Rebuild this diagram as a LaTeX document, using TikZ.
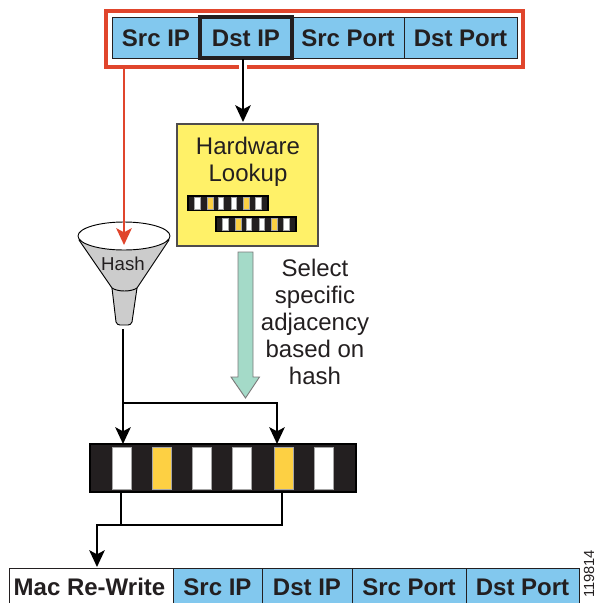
\documentclass[tikz,border=0pt]{standalone}
\usepackage{fontspec}
\setmainfont{Liberation Sans}
\usetikzlibrary{arrows.meta,calc}
\definecolor{bluecell}{HTML}{82C8EE}
\definecolor{redline}{HTML}{E0452C}
\definecolor{yellowbox}{HTML}{FFF168}
\definecolor{goldcell}{HTML}{FDD043}
\definecolor{tealarrow}{HTML}{A4DAC8}
\definecolor{darkstrip}{HTML}{231F20}
\definecolor{greyfun}{HTML}{CCCCCC}
\tikzset{
  x=0.75pt,y=-0.75pt,
  cellbox/.style={draw=darkstrip,line width=0.75pt,fill=bluecell},
  celltext/.style={font=\fontsize{18}{20}\selectfont\bfseries,text=darkstrip,inner sep=0pt},
  bodytext/.style={font=\fontsize{18}{20.2}\selectfont,text=darkstrip,inner sep=0pt,align=center},
  conn/.style={draw=black,line width=2.2pt},
  tipconn/.style={conn,-{Stealth[length=12.5pt,width=11.5pt,inset=3pt]}},
}
\newcommand{\packetcell}[6]{% name x1 y1 x2 y2 label
  \path[cellbox] (#2,#3) rectangle (#4,#5);
  \node[celltext] (#1) at ({(#2+#4)/2},{(#3+#5)/2+1}) {#6};
}
\newcommand{\stripcells}[8]{% x y w h list pad cellw linewidth
  \begin{scope}[shift={(#1,#2)}]
    \fill[darkstrip,draw=black,line width=#8*3] (0,0) rectangle (#3,#4);
    \foreach \posn/\colr in {#5}{
      \fill[\colr,draw=gray!70!white,line width=#8] ({\posn/266*#3},#6) rectangle ({(\posn+#7)/266*#3},#4-#6);
    }
  \end{scope}
}
\begin{document}
\begin{tikzpicture}
\useasboundingbox (0,0) rectangle (596,603);
% top packet
\packetcell{a1}{112}{17}{200}{58}{Src IP}
\packetcell{a2}{200}{17}{292}{58}{Dst IP}
\packetcell{a3}{292}{17}{404}{58}{Src Port}
\packetcell{a4}{404}{17}{517}{58}{Dst Port}
\draw[darkstrip,line width=2.4pt] (200,17) rectangle (292,58);
\coordinate (dstbot) at (243,59);
% red frame
\draw[redline,line width=3pt,line join=miter] (239,66.5) -- (106,66.5) -- (106,10.5) -- (522.5,10.5) -- (522.5,66.5) -- (247,66.5);
\coordinate (redstart) at (124,67);
% hardware lookup
\node[draw=darkstrip!80,line width=0.8pt,fill=yellowbox,minimum width=105.75pt,minimum height=91.5pt,inner sep=0pt] (hw) at (247.5,185) {};
\node[bodytext] (hwt) at (248,162) {Hardware\\Lookup};
\stripcells{188}{196}{80}{14.5}{22/white,65/goldcell,100/white,143/white,185/goldcell,224/white}{1.5}{18}{0.3pt}
\stripcells{216}{217}{80}{14.5}{22/white,65/goldcell,100/white,143/white,185/goldcell,224/white}{1.5}{18}{0.3pt}
% funnel
\draw[fill=greyfun,draw=black,line width=0.7pt,line join=round] (116,322) .. controls (117,324) and (118,325) .. (120,325) -- (128,325) .. controls (130,325) and (131,324) .. (132,322) -- (137,288) -- (112,288) -- cycle;
\draw[fill=greyfun,draw=black,line width=0.7pt,line join=round] (79,240) -- (112,288) .. controls (118,292) and (131,292) .. (137,288) -- (169,240) -- cycle;
\draw[fill=white,draw=black,line width=0.7pt] (124,236) ellipse [x radius=46,y radius=14];
\node[font=\fontsize{14}{16}\selectfont,text=darkstrip,inner sep=0pt] (hash) at (123,264) {Hash};
\coordinate (funneltop) at (124,245);
\coordinate (funnelbot) at (123,329);
% red arrow
\draw[redline,line width=2.2pt,-{Stealth[length=12.5pt,width=11.5pt,inset=3pt]}] (redstart) -- (funneltop);
% dst arrow
\draw[tipconn] (dstbot) -- (243,122);
% teal arrow
\draw[fill=tealarrow,draw=darkstrip!60,line width=0.7pt,line join=miter] (238,252) -- (253,252) -- (253,377) -- (259.5,377) -- (245.5,398) -- (231,377) -- (238,377) -- cycle;
\node[bodytext] (sel) at (315,322) {Select\\specific\\adjacency\\based on\\hash};
% big strip
\stripcells{90}{444}{266}{48}{22/white,62/goldcell,102/white,142/white,184/goldcell,224/white}{3}{19}{0.4pt}
\coordinate (s1) at (123,444);\coordinate (s2) at (277,444);
\coordinate (j1) at (123,403);\coordinate (j2) at (277,403);
\draw[conn] (funnelbot) -- (j1);
\draw[tipconn] (j1) -- (s1);
\draw[conn,line join=miter] (j1) -- (j2) -- ++(0,1);
\draw[tipconn] (j2) -- (s2);
\coordinate (b1) at (121,492);\coordinate (b2) at (282,492);
\coordinate (k1) at (121,525);\coordinate (k2) at (282,525);\coordinate (k3) at (97,525);
\draw[conn] (b1) -- (k1);
\draw[conn,line join=miter] (b2) -- (k2) -- (k3) -- ++(0,1);
\draw[tipconn] (k3) -- (97,567);
% bottom packet
\path[draw=darkstrip,line width=0.75pt,fill=white] (9,568) rectangle (173,610);
\node[celltext] (b0) at (89.5,587) {Mac Re-Write};
\packetcell{c1}{173}{568}{262}{610}{}
\packetcell{c2}{262}{568}{352}{610}{}
\packetcell{c3}{352}{568}{466}{610}{}
\packetcell{c4}{466}{568}{579}{610}{}
\node[celltext] at (217.5,587) {Src IP};
\node[celltext] at (307,587) {Dst IP};
\node[celltext] at (409,587) {Src Port};
\node[celltext] at (522.5,587) {Dst Port};
\node[rotate=90,font=\fontsize{11}{12}\selectfont,text=darkstrip,inner sep=0pt] (id) at (589,574) {119814};
\end{tikzpicture}
\end{document}
